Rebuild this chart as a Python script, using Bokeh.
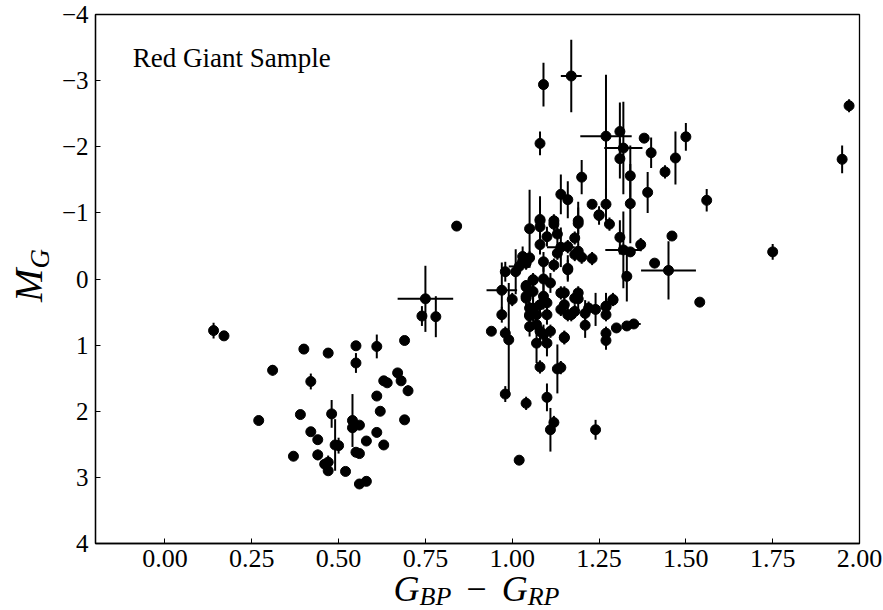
import numpy as np
from bokeh.plotting import figure
from bokeh.models import (ColumnDataSource, Range1d, FixedTicker, NumeralTickFormatter,
                          CustomJSTickFormatter, Label, Div)
from bokeh.layouts import column, row
from bokeh.embed import file_html
from bokeh.resources import INLINE

# colour index G_BP - G_RP
bp_rp = [0.14, 0.17, 0.27, 0.31, 0.40, 0.47, 0.55, 0.61, 0.69, 0.55, 0.42, 0.67, 0.63, 0.64, 0.68, 0.70,
         0.61, 0.62, 0.69, 0.39, 0.48, 0.54, 0.54, 0.56, 0.42, 0.44, 0.49, 0.50, 0.58, 0.61, 0.63, 0.55,
         0.56, 0.37, 0.44, 0.46, 0.47, 0.47, 0.52, 0.56, 0.58,
         0.75, 0.74, 0.78, 0.84,
         0.94, 0.97, 0.97, 0.98, 0.98, 0.99, 0.98, 1.00, 1.01, 1.02, 1.03, 1.03, 1.05, 1.05, 1.04, 1.04,
         1.04, 1.04, 1.04, 1.06, 1.06, 1.08, 1.08, 1.08, 1.10, 1.12, 1.13, 1.14, 1.13, 1.16, 1.09, 1.12,
         1.09, 1.11, 1.06, 1.09, 1.06, 1.08, 1.10, 1.14, 1.18, 1.05, 1.07, 1.10, 1.14, 1.16, 1.19, 1.19,
         1.04, 1.10, 1.12, 1.11, 1.08, 1.13, 1.05, 1.05, 1.05, 1.07, 1.08, 1.10, 1.11, 1.07, 1.09, 1.15,
         1.17, 1.18, 1.02, 1.24, 1.21, 1.27, 1.27, 1.30, 1.33, 1.35, 1.15, 1.14, 1.15, 1.19, 1.19, 1.15,
         1.22, 1.21, 1.24, 1.27, 1.27, 1.29, 1.16, 1.18, 1.20, 1.23, 1.16, 1.18, 1.25, 1.28, 1.14, 1.16,
         1.20, 1.23, 1.27, 1.25, 1.09, 1.17, 1.08, 1.27, 1.31, 1.32, 1.31, 1.38, 1.40, 1.44, 1.47, 1.50,
         1.34, 1.34, 1.39, 1.12, 1.19, 1.08, 1.97, 1.95, 1.75, 1.56, 1.46, 1.45, 1.41, 1.54, 1.37, 1.31,
         1.32, 1.34, 1.33, 1.29, 1.27]
# absolute G magnitude
m_g = [0.78, 0.86, 2.14, 1.38, 1.06, 1.12, 1.01, 1.02, 0.93, 1.27, 1.55, 1.42, 1.54, 1.57, 1.54, 1.69,
       1.77, 2.00, 2.13, 2.05, 2.04, 2.14, 2.25, 2.21, 2.31, 2.43, 2.51, 2.52, 2.45, 2.32, 2.51, 2.62,
       2.64, 2.68, 2.66, 2.80, 2.77, 2.90, 2.91, 3.10, 3.06,
       0.30, 0.56, 0.57, -0.80,
       0.79, 0.17, 0.54, -0.11, 0.82, 0.92, 1.74, 0.31, -0.11, -0.19, -0.27, -0.34, -0.32, -0.76, -0.24, 0.12,
       0.26, 0.10, 0.29, 0.02, 0.19, -0.52, -0.88, -0.79, -0.64, -0.83, -0.68, -0.48, -0.39, -0.16, -0.26, -0.21,
       0.00, 0.06, 0.01, 0.26, 0.44, 0.39, 0.36, 0.21, 0.29, 0.54, 0.54, 0.54, 0.46, 0.54, -0.84, -0.42,
       1.88, 1.79, 2.17, 2.28, 1.33, 1.36, 0.44, 0.56, 0.72, 0.97, 0.79, 0.97, 0.79, 0.69, 0.84, 0.88,
       0.54, 0.49, 2.74, 2.28, 0.70, 0.93, 0.82, 0.74, 0.71, 0.68, 0.89, 1.34, 0.21, 0.21, 0.30, 0.39,
       0.44, 0.52, 0.46, 0.41, 0.54, 0.31, -0.49, -0.37, -0.33, -0.31, -0.14, -0.62, -0.96, -0.83, -1.28, -1.20,
       -1.54, -1.13, -1.13, -0.97, -2.94, -3.07, -2.05, -2.16, -2.23, -1.98, -1.82, -2.13, -1.91, -1.62, -1.83, -2.15,
       -1.56, -1.14, -1.31, -0.88, -0.88, -0.90, -2.62, -1.81, -0.41, -1.19, -0.65, -0.13, -0.24, 0.35, -0.52, -0.63,
       -0.44, -0.41, -0.04, 0.32, 0.42]
# magnitude uncertainty
m_g_err = [0.12, 0.0, 0.0, 0.08, 0.07, 0.0, 0.0, 0.18, 0.0, 0.15, 0.12, 0.0, 0.0, 0.0, 0.0, 0.08,
           0.0, 0.0, 0.0, 0.0, 0.21, 0.40, 0.0, 0.0, 0.0, 0.0, 0.39, 0.12, 0.0, 0.0, 0.0, 0.0,
           0.0, 0.0, 0.08, 0.0, 0.10, 0.0, 0.0, 0.0, 0.0,
           0.50, 0.15, 0.31, 0.05,
           0.0, 0.42, 0.12, 0.15, 0.10, 0.86, 0.12, 0.10, 0.34, 0.10, 0.10, 0.15, 0.10, 0.59, 0.10, 0.10,
           0.20, 0.0, 0.0, 0.10, 0.15, 0.15, 0.30, 0.20, 0.15, 0.10, 0.25, 0.30, 0.10, 0.20, 0.15, 0.10,
           0.20, 0.15, 0.10, 0.20, 0.20, 0.15, 0.10, 0.10, 0.10, 0.10, 0.20, 0.15, 0.10, 0.10, 0.33, 0.10,
           0.10, 0.21, 0.10, 0.33, 0.10, 0.37, 0.10, 0.10, 0.15, 0.30, 0.15, 0.20, 0.10, 0.10, 0.15, 0.10,
           0.10, 0.10, 0.0, 0.15, 0.19, 0.14, 0.10, 0.0, 0.0, 0.03, 0.10, 0.10, 0.10, 0.10, 0.15, 0.10,
           0.10, 0.20, 0.25, 0.20, 0.10, 0.10, 0.10, 0.10, 0.10, 0.10, 0.15, 0.10, 0.14, 0.10, 0.30, 0.28,
           0.26, 0.0, 0.25, 0.0, 0.33, 0.55, 0.18, 0.93, 0.44, 0.70, 0.30, 0.0, 0.23, 0.10, 0.40, 0.21,
           0.46, 0.60, 0.31, 0.10, 0.20, 0.35, 0.10, 0.21, 0.12, 0.17, 0.0, 0.44, 0.0, 0.0, 0.10, 0.26,
           0.58, 0.0, 0.38, 0.0, 0.20]
# colour uncertainty (most are hidden under the markers)
bp_rp_err = [0, 0, 0, 0, 0, 0, 0, 0, 0, 0, 0, 0, 0, 0, 0, 0,
             0, 0, 0, 0, 0, 0, 0, 0, 0, 0, 0, 0, 0, 0, 0, 0,
             0, 0, 0, 0, 0, 0, 0, 0, 0,
             0.08, 0, 0, 0,
             0, 0.044, 0, 0, 0, 0, 0, 0, 0, 0.03, 0, 0, 0, 0, 0, 0,
             0, 0, 0, 0, 0, 0, 0, 0, 0, 0, 0, 0.04, 0, 0, 0, 0,
             0, 0, 0, 0, 0, 0, 0, 0, 0, 0, 0, 0, 0, 0, 0, 0,
             0, 0, 0, 0, 0, 0, 0, 0, 0, 0, 0, 0, 0, 0, 0, 0,
             0, 0, 0, 0, 0, 0, 0, 0, 0, 0.02, 0, 0, 0, 0, 0, 0,
             0, 0, 0, 0, 0, 0, 0, 0, 0, 0, 0, 0, 0, 0, 0, 0,
             0, 0, 0, 0, 0, 0.03, 0, 0.074, 0, 0.055, 0, 0, 0, 0, 0, 0,
             0, 0, 0, 0, 0, 0, 0, 0, 0, 0, 0, 0.079, 0, 0, 0, 0,
             0.052, 0, 0, 0, 0]

x = np.array(bp_rp, dtype=float)
y = np.array(m_g, dtype=float)
ye = np.array(m_g_err, dtype=float)
xe = np.array(bp_rp_err, dtype=float)

src = ColumnDataSource(dict(x=x, y=y, y0=y - ye, y1=y + ye, x0=x - xe, x1=x + xe))

FONT = "Liberation Serif"

p = figure(width=833, height=580, x_range=Range1d(-0.2, 2.0), y_range=Range1d(4, -4),
           output_backend="svg", toolbar_location=None,
           min_border_left=45, min_border_right=24, min_border_top=14, min_border_bottom=37)
p.grid.visible = False
p.outline_line_color = "black"
p.outline_line_width = 1.3
p.background_fill_color = "white"
p.border_fill_color = "white"

p.segment(x0="x", y0="y0", x1="x", y1="y1", source=src, line_color="black", line_width=2)
p.segment(x0="x0", y0="y", x1="x1", y1="y", source=src, line_color="black", line_width=2)
p.scatter(x="x", y="y", source=src, size=10, marker="circle", fill_color="black", line_color="black")

p.xaxis.ticker = FixedTicker(ticks=[0.0, 0.25, 0.5, 0.75, 1.0, 1.25, 1.5, 1.75, 2.0])
p.xaxis.formatter = NumeralTickFormatter(format="0.00")
p.yaxis.ticker = FixedTicker(ticks=[-4, -3, -2, -1, 0, 1, 2, 3, 4])
p.yaxis.formatter = CustomJSTickFormatter(code="return tick < 0 ? '\u2212' + Math.abs(tick) : String(tick);")
for ax in (p.xaxis, p.yaxis):
    ax.major_tick_in = 5
    ax.major_tick_out = 0
    ax.minor_tick_line_color = None
    ax.major_tick_line_color = "black"
    ax.axis_line_color = "black"
    ax.axis_line_width = 1.3
    ax.major_label_text_font = FONT
    ax.major_label_text_color = "black"
p.xaxis.major_label_text_font_size = "26px"
p.yaxis.major_label_text_font_size = "25px"
p.xaxis.major_label_standoff = 6
p.yaxis.major_label_standoff = 7

p.add_layout(Label(x=-0.093, y=-3.34, text="Red Giant Sample", text_font=FONT, text_font_size="27px",
                   text_color="black", text_align="left", text_baseline="alphabetic"))

# axis titles as HTML text with italic letters and subscripts
base = "font-family:'Liberation Serif',serif;font-style:italic;font-size:36px;white-space:nowrap;color:black;line-height:1;"
sub = "font-size:26px;vertical-align:-0.14em;line-height:1;"
ylab = Div(width=50, height=580, margin=0,
           text=("<div style='width:50px;height:580px;display:flex;align-items:center;justify-content:center;'>"
                 "<div style=\"" + base + "font-size:40px;transform:translate(6px,-14px) rotate(-90deg);\">"
                 "M<span style='" + sub + "font-size:27px;vertical-align:-0.26em;'>G</span></div></div>"))
xlab = Div(width=883, height=30, margin=0,
           text=("<div style='width:883px;height:30px;display:flex;align-items:flex-start;justify-content:center;'>"
                 "<div style=\"" + base + "transform:translate(35px,-9px);\">"
                 "G<span style='" + sub + "'>BP</span>"
                 "<span style='font-style:normal;margin:0 15px 0 15px;'>\u2212</span>"
                 "G<span style='" + sub + "'>RP</span></div></div>"))

layout = column(row(ylab, p, spacing=0), xlab, spacing=0)

open("out.html", "w").write(file_html(layout, INLINE))
